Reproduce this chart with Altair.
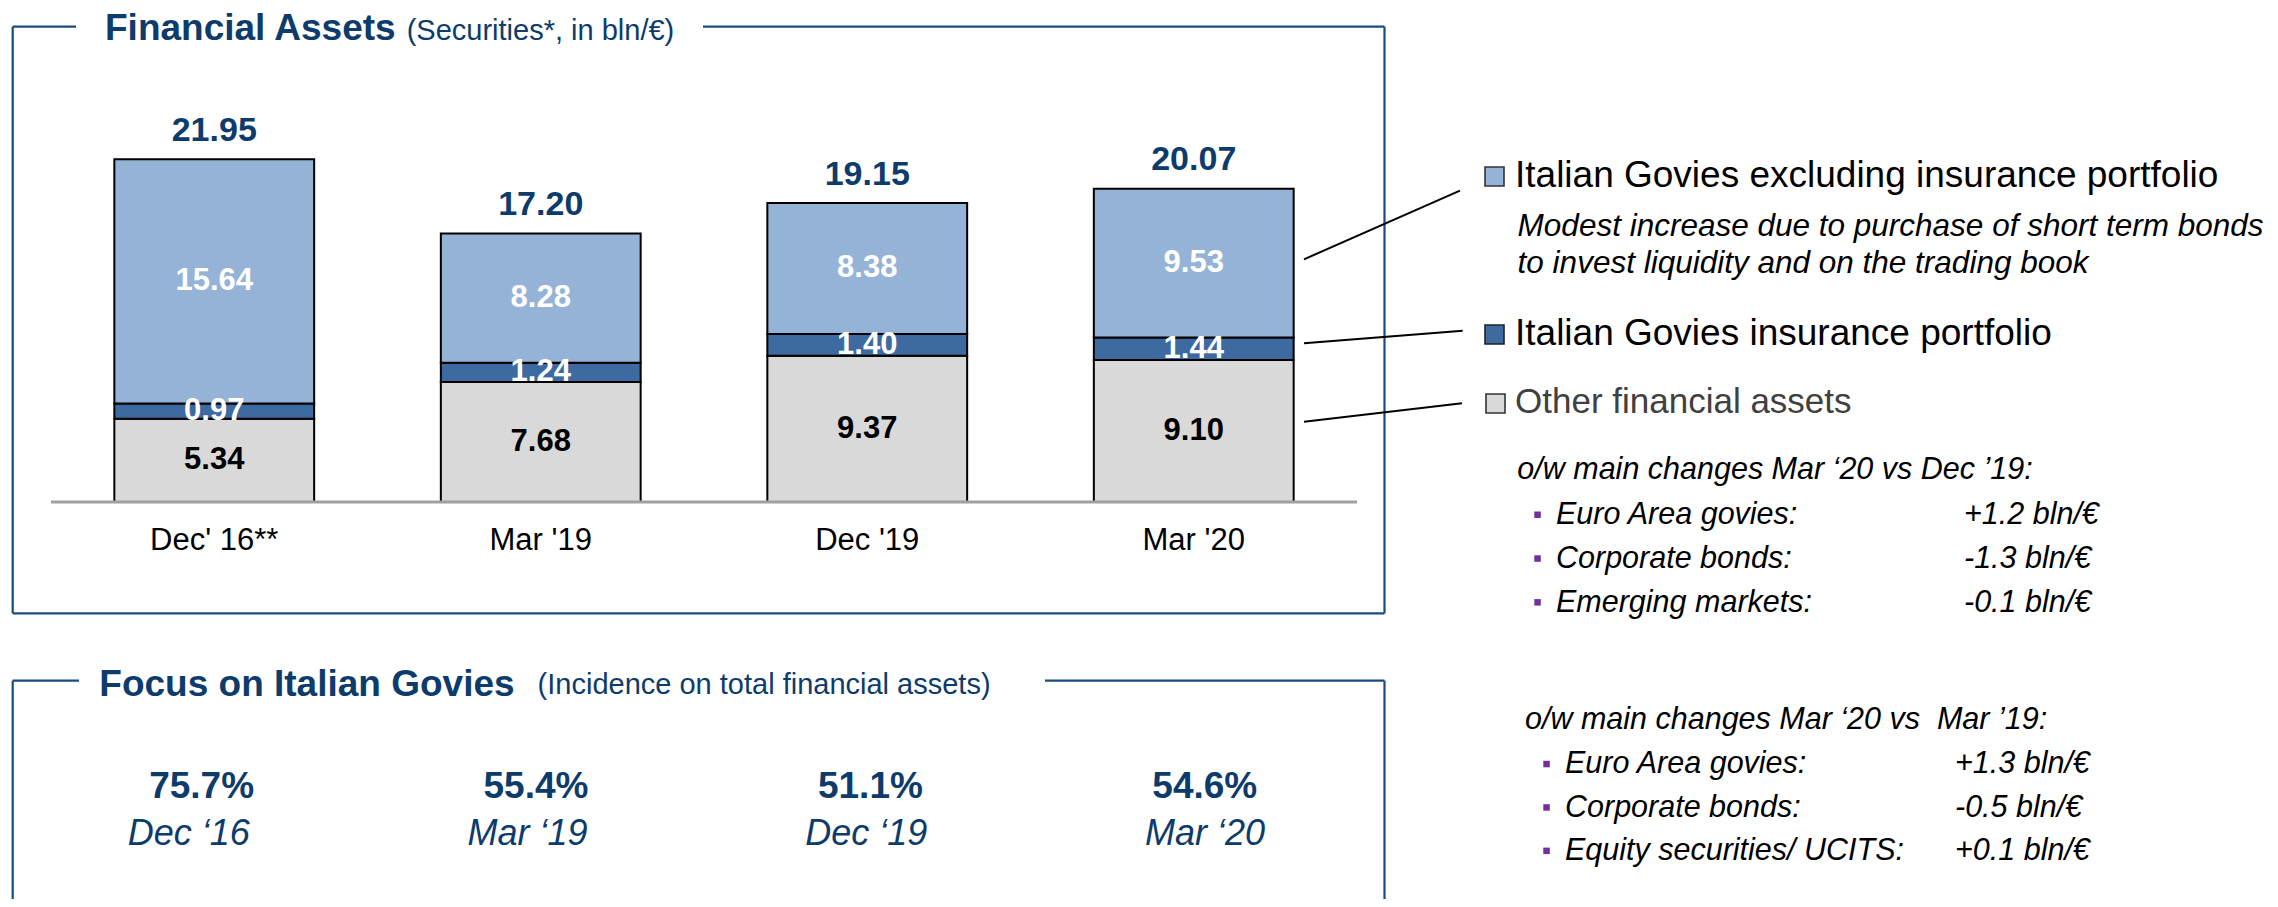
import altair as alt
import pandas as pd

# ---------------- data ----------------
periods = ["Dec' 16**", "Mar '19", "Dec '19", "Mar '20"]
other_assets = [5.34, 7.68, 9.37, 9.10]
govies_insurance = [0.97, 1.24, 1.40, 1.44]
govies_excl = [15.64, 8.28, 8.38, 9.53]
series_names = [
    "Other financial assets",
    "Italian Govies insurance portfolio",
    "Italian Govies excluding insurance portfolio",
]
series_colors = ["#D9D9D9", "#3D6AA1", "#95B3D7"]

incidence = [75.7, 55.4, 51.1, 54.6]
incidence_periods = ["Dec \u201816", "Mar \u201819", "Dec \u201819", "Mar \u201820"]

chg1_title = "o/w main changes Mar \u201820 vs Dec \u201919:"
chg1_items = ["Euro Area govies:", "Corporate bonds:", "Emerging markets:"]
chg1_values = ["+1.2 bln/\u20ac", "-1.3 bln/\u20ac", "-0.1 bln/\u20ac"]
chg2_title = "o/w main changes Mar \u201820 vs\u00a0 Mar \u201919:"
chg2_items = ["Euro Area govies:", "Corporate bonds:", "Equity securities/ UCITS:"]
chg2_values = ["+1.3 bln/\u20ac", "-0.5 bln/\u20ac", "+0.1 bln/\u20ac"]

rows = []
for i, p in enumerate(periods):
    for k, vals in enumerate([other_assets, govies_insurance, govies_excl]):
        rows.append({"period": p, "series": series_names[k], "value": vals[i], "ord": k})
bars_df = pd.DataFrame(rows)
inc_df = pd.DataFrame({"label": incidence_periods, "pct": incidence})
cat_df = pd.DataFrame({"period": periods})

# ---------------- styles ----------------
FONT = "Liberation Sans"
NAVY = "#0D3B6B"
BOXC = "#1A4B7C"
blank = alt.Data(values=[{}])

x_bar = alt.X(
    "period:N", sort=periods, axis=None,
    scale=alt.Scale(domain=periods, range=[43, 1349], paddingInner=0.388, paddingOuter=0.194),
)
yscale = alt.Scale(domain=[0, 25], range=[494, 103.75], nice=False, zero=True)


def label(t, x, y, size, color="black", weight="normal", style="normal", align="left"):
    return alt.Chart(blank).mark_text(
        text=t, font=FONT, fontSize=size, fontWeight=weight, fontStyle=style,
        color=color, align=align, baseline="alphabetic",
    ).encode(x=alt.value(x), y=alt.value(y))


def seg(x1, y1, x2, y2, color="black", width=2):
    return alt.Chart(blank).mark_rule(color=color, strokeWidth=width).encode(
        x=alt.value(x1), y=alt.value(y1), x2=alt.value(x2), y2=alt.value(y2)
    )


def rect(x1, y1, x2, y2, fill, stroke=None, sw=0):
    kw = dict(fill=fill, strokeWidth=sw)
    if stroke:
        kw["stroke"] = stroke
    return alt.Chart(blank).mark_rect(**kw).encode(
        x=alt.value(x1), x2=alt.value(x2), y=alt.value(y1), y2=alt.value(y2)
    )


layers = []

# ---------------- bars ----------------
bars = alt.Chart(bars_df).mark_bar(stroke="black", strokeWidth=2).encode(
    x=x_bar,
    y=alt.Y("value:Q", stack="zero", axis=None, scale=yscale),
    color=alt.Color("series:N", scale=alt.Scale(domain=series_names, range=series_colors), legend=None),
    order=alt.Order("ord:Q"),
)
layers.append(bars)

seg_labels = alt.Chart(bars_df).transform_stack(
    stack="value", groupby=["period"], sort=[alt.SortField("ord", order="ascending")], as_=["y0", "y1"]
).transform_calculate(mid="(datum.y0 + datum.y1) / 2").mark_text(
    font=FONT, fontSize=31, fontWeight="bold", baseline="middle"
).encode(
    x=x_bar,
    y=alt.Y("mid:Q", axis=None, scale=yscale),
    text=alt.Text("value:Q", format=".2f"),
    color=alt.condition(alt.datum.ord == 0, alt.value("black"), alt.value("white")),
)
layers.append(seg_labels)

totals = alt.Chart(bars_df).transform_aggregate(
    total="sum(value)", groupby=["period"]
).mark_text(
    font=FONT, fontSize=34, fontWeight="bold", color=NAVY, baseline="alphabetic", dy=-18.5
).encode(
    x=x_bar,
    y=alt.Y("total:Q", axis=None, scale=yscale),
    text=alt.Text("total:Q", format=".2f"),
)
layers.append(totals)

# axis line and category labels
layers.append(seg(43, 494, 1349, 494, "#A0A0A0", 3))
cats = alt.Chart(cat_df).mark_text(font=FONT, fontSize=31, color="black", baseline="alphabetic").encode(
    x=x_bar, y=alt.value(542), text="period:N"
)
layers.append(cats)

# ---------------- box 1 ----------------
L, R = 4.7, 1376.5
layers += [
    seg(L, 18.7, 68, 18.7, BOXC, 2.2),
    seg(695, 18.7, R, 18.7, BOXC, 2.2),
    seg(L, 18.7, L, 605.3, BOXC, 2.2),
    seg(R, 18.7, R, 605.3, BOXC, 2.2),
    seg(L, 605.3, R, 605.3, BOXC, 2.2),
    label("Financial Assets", 97, 32, 37, NAVY, "bold"),
    label("(Securities*, in bln/\u20ac)", 398.7, 32, 29, NAVY),
]

# ---------------- box 2 ----------------
layers += [
    seg(L, 672.7, 71, 672.7, BOXC, 2.2),
    seg(1037, 672.7, R, 672.7, BOXC, 2.2),
    seg(L, 672.7, L, 900, BOXC, 2.2),
    seg(R, 672.7, R, 900, BOXC, 2.2),
    label("Focus on Italian Govies", 91.3, 688, 37, NAVY, "bold"),
    label("(Incidence on total financial assets)", 529.6, 686, 29, NAVY),
]

pct_text = alt.Chart(inc_df).transform_calculate(
    txt="format(datum.pct, '.1f') + '%'"
).mark_text(font=FONT, fontSize=37, fontWeight="bold", color=NAVY, baseline="alphabetic").encode(
    x=alt.X("label:N", sort=incidence_periods, axis=None,
            scale=alt.Scale(type="point", domain=incidence_periods, range=[193.6, 1196.8], padding=0)),
    y=alt.value(790.3),
    text="txt:N",
)
date_text = alt.Chart(inc_df).mark_text(
    font=FONT, fontSize=36, fontStyle="italic", color=NAVY, baseline="alphabetic"
).encode(
    x=alt.X("label:N", sort=incidence_periods, axis=None,
            scale=alt.Scale(type="point", domain=incidence_periods, range=[180.7, 1197.1], padding=0)),
    y=alt.value(837),
    text="label:N",
)
layers += [pct_text, date_text]

# ---------------- legend / notes on the right ----------------
layers += [
    seg(1296, 251.3, 1452, 182.7, "black", 2),
    seg(1296, 335.3, 1454.7, 322.7, "black", 2),
    seg(1296, 413.7, 1454, 395.3, "black", 2),
    rect(1477, 159, 1496, 178, series_colors[2], "#333333", 1.6),
    rect(1477, 317, 1496, 336, series_colors[1], "#222222", 1.6),
    rect(1478, 386, 1497, 405, series_colors[0], "#333333", 1.6),
    label(series_names[2], 1507, 178.7, 37),
    label("Modest increase due to purchase of short term bonds", 1509.6, 228, 31.5, style="italic"),
    label("to invest liquidity and on the trading book", 1509.6, 265.3, 31.5, style="italic"),
    label(series_names[1], 1507, 337, 37),
    label(series_names[0], 1507, 405, 35, "#404040"),
]

BUL = "#7030A0"
layers.append(label(chg1_title, 1509.3, 471.3, 30.5, style="italic"))
for i, (it, v) in enumerate(zip(chg1_items, chg1_values)):
    yb = 516 + 43.8 * i
    layers.append(rect(1526.3, yb - 12.5, 1532.8, yb - 6, BUL))
    layers.append(label(it, 1548, yb, 30.5, style="italic"))
    layers.append(label(v, 1956, yb, 30.5, style="italic"))

layers.append(label(chg2_title, 1517, 721, 30.5, style="italic"))
for i, (it, v) in enumerate(zip(chg2_items, chg2_values)):
    yb = 765.3 + 43.4 * i
    layers.append(rect(1535.3, yb - 12.5, 1541.8, yb - 6, BUL))
    layers.append(label(it, 1557, yb, 30.5, style="italic"))
    layers.append(label(v, 1947, yb, 30.5, style="italic"))

chart = alt.layer(*layers).properties(
    width=2262, height=891, padding=0,
    autosize=alt.AutoSizeParams(type="none"),
).resolve_scale(x="independent").configure_view(stroke=None)

chart.save("out.html", embed_options={"renderer": "svg", "actions": False})
